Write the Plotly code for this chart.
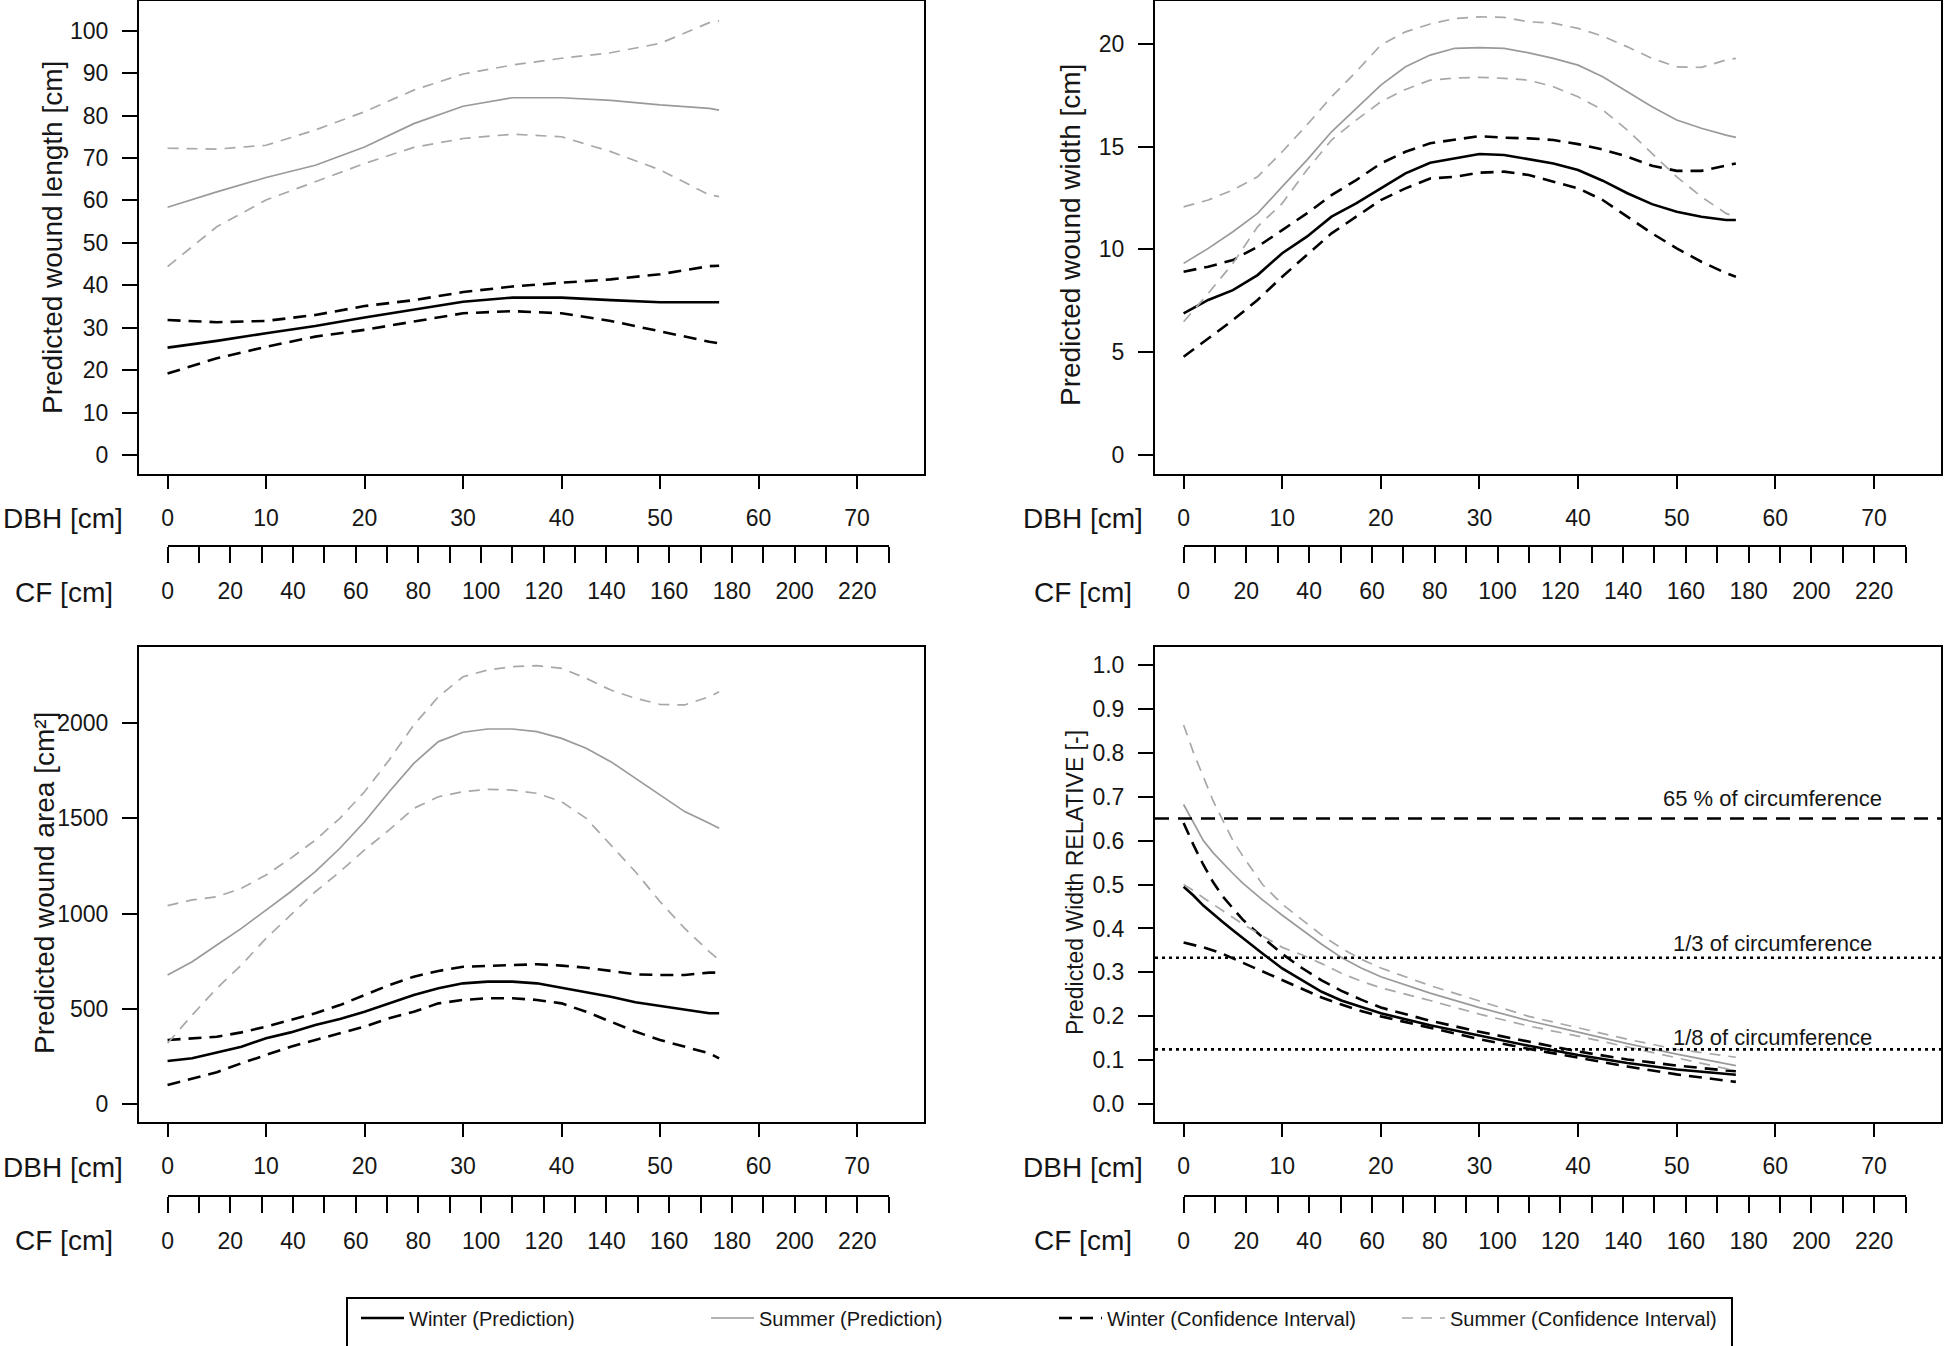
import math
import plotly.graph_objects as go

# ---------------- data ----------------
# top left: predicted wound length [cm]
DBH_LEN = [0, 5, 10, 15, 20, 25, 30, 35, 40, 45, 50, 55, 56]
LEN_WINTER = [25.3, 26.9, 28.7, 30.4, 32.4, 34.3, 36.1, 37.1, 37.1, 36.5, 36.0, 36.0, 36.0]
LEN_WINTER_UP = [31.8, 31.3, 31.6, 33.0, 35.1, 36.5, 38.4, 39.7, 40.6, 41.4, 42.6, 44.5, 44.6]
LEN_WINTER_LO = [19.2, 22.8, 25.5, 27.9, 29.5, 31.4, 33.4, 33.9, 33.4, 31.6, 29.1, 26.7, 26.3]
LEN_SUMMER = [58.4, 62.0, 65.4, 68.3, 72.6, 78.1, 82.2, 84.2, 84.2, 83.6, 82.5, 81.7, 81.3]
LEN_SUMMER_UP = [72.3, 72.1, 73.0, 76.6, 80.9, 86.0, 89.8, 91.9, 93.5, 94.8, 97.0, 101.9, 102.3]
LEN_SUMMER_LO = [44.4, 53.8, 60.1, 64.4, 68.7, 72.5, 74.6, 75.6, 75.0, 71.5, 67.2, 61.3, 60.9]

# top right: predicted wound width [cm]
DBH_WID = [0, 2.5, 5, 7.5, 10, 12.5, 15, 17.5, 20, 22.5, 25, 27.5, 30, 32.5,
           35, 37.5, 40, 42.5, 45, 47.5, 50, 52.5, 55, 56]
WID_WINTER = [6.89, 7.54, 8.02, 8.75, 9.81, 10.62, 11.59, 12.24, 12.97, 13.70, 14.21, 14.43,
              14.64, 14.59, 14.38, 14.18, 13.86, 13.34, 12.73, 12.20, 11.83, 11.59, 11.43, 11.43]
WID_WINTER_UP = [8.91, 9.16, 9.48, 10.13, 10.94, 11.75, 12.64, 13.37, 14.18, 14.75, 15.16, 15.32,
                 15.51, 15.43, 15.40, 15.32, 15.12, 14.86, 14.51, 14.07, 13.82, 13.82, 14.07, 14.18]
WID_WINTER_LO = [4.78, 5.67, 6.56, 7.54, 8.67, 9.73, 10.78, 11.59, 12.40, 12.97, 13.45, 13.53,
                 13.73, 13.78, 13.62, 13.29, 12.97, 12.40, 11.59, 10.78, 10.05, 9.40, 8.84, 8.67]
WID_SUMMER = [9.32, 10.05, 10.86, 11.75, 13.05, 14.34, 15.72, 16.86, 17.99, 18.88, 19.45, 19.78,
              19.81, 19.78, 19.56, 19.29, 18.96, 18.40, 17.67, 16.94, 16.29, 15.89, 15.56, 15.45]
WID_SUMMER_UP = [12.07, 12.40, 12.89, 13.53, 14.75, 16.05, 17.42, 18.64, 19.94, 20.58, 20.96, 21.23,
                 21.31, 21.28, 21.07, 21.00, 20.75, 20.37, 19.85, 19.29, 18.88, 18.85, 19.21, 19.29]
WID_SUMMER_LO = [6.48, 7.86, 9.32, 11.10, 12.24, 13.86, 15.32, 16.29, 17.18, 17.78, 18.23, 18.33,
                 18.37, 18.32, 18.23, 17.91, 17.42, 16.78, 15.80, 14.67, 13.53, 12.56, 11.75, 11.59]

# bottom left: predicted wound area [cm2]
DBH_AREA = DBH_WID
AREA_WINTER = [227, 241, 272, 302, 346, 377, 416, 447, 485, 529, 573, 608,
               634, 643, 643, 634, 611, 590, 564, 535, 515, 494, 477, 477]
AREA_WINTER_UP = [337, 346, 354, 377, 407, 442, 477, 520, 573, 625, 669, 699,
                  721, 725, 730, 734, 727, 716, 699, 681, 678, 678, 690, 690]
AREA_WINTER_LO = [101, 136, 168, 215, 258, 302, 337, 372, 407, 451, 485, 529,
                  547, 556, 556, 547, 529, 485, 433, 381, 337, 302, 267, 241]
AREA_SUMMER = [678, 747, 835, 922, 1018, 1114, 1219, 1342, 1481, 1638, 1787, 1901,
               1950, 1967, 1967, 1953, 1918, 1866, 1796, 1709, 1621, 1534, 1473, 1447]
AREA_SUMMER_UP = [1041, 1071, 1088, 1132, 1202, 1289, 1385, 1499, 1638, 1805, 1988, 2136,
                  2241, 2276, 2294, 2299, 2285, 2233, 2171, 2128, 2096, 2093, 2136, 2162]
AREA_SUMMER_LO = [320, 468, 608, 730, 870, 992, 1114, 1219, 1333, 1438, 1551, 1612,
                  1638, 1651, 1647, 1630, 1586, 1499, 1359, 1219, 1062, 922, 800, 756]

# bottom right: predicted width relative to circumference [-]
DBH_REL = [0, 1, 2, 3, 4, 5, 6, 8, 10, 12, 14, 16, 18, 20, 25, 30, 35, 40, 45, 50, 55, 56]
REL_WINTER = [0.495, 0.475, 0.452, 0.432, 0.414, 0.396, 0.378, 0.343, 0.309, 0.282, 0.256,
              0.236, 0.221, 0.207, 0.180, 0.156, 0.133, 0.112, 0.094, 0.079, 0.068, 0.067]
REL_WINTER_UP = [0.640, 0.590, 0.545, 0.505, 0.472, 0.445, 0.420, 0.380, 0.342, 0.310, 0.282,
                 0.258, 0.238, 0.220, 0.190, 0.165, 0.142, 0.120, 0.102, 0.088, 0.077, 0.075]
REL_WINTER_LO = [0.368, 0.363, 0.357, 0.350, 0.342, 0.332, 0.322, 0.303, 0.282, 0.262, 0.243,
                 0.227, 0.212, 0.200, 0.174, 0.148, 0.126, 0.106, 0.086, 0.068, 0.053, 0.051]
REL_SUMMER = [0.682, 0.640, 0.600, 0.572, 0.548, 0.525, 0.503, 0.465, 0.430, 0.397, 0.364,
              0.334, 0.310, 0.290, 0.253, 0.220, 0.190, 0.164, 0.138, 0.114, 0.092, 0.088]
REL_SUMMER_UP = [0.863, 0.800, 0.745, 0.690, 0.645, 0.600, 0.565, 0.500, 0.455, 0.420, 0.385,
                 0.355, 0.330, 0.310, 0.270, 0.235, 0.200, 0.174, 0.148, 0.125, 0.110, 0.107]
REL_SUMMER_LO = [0.500, 0.486, 0.470, 0.455, 0.440, 0.425, 0.410, 0.383, 0.357, 0.340, 0.320,
                 0.298, 0.280, 0.265, 0.236, 0.205, 0.178, 0.155, 0.130, 0.105, 0.081, 0.078]

REF_LEVELS = [0.65, 1 / 3, 1 / 8]
REF_LABELS = ['65 % of circumference', '1/3 of circumference', '1/8 of circumference']

DBH_TICKS = list(range(0, 80, 10))
CF_TICKS = list(range(0, 240, 10))
CF_LABELS = [str(v) if v % 20 == 0 and v <= 220 else '' for v in CF_TICKS]

SERIES_NAMES = ['Winter (Prediction)', 'Summer (Prediction)',
                'Winter (Confidence Interval)', 'Summer (Confidence Interval)']

# ---------------- styling ----------------
W, H = 1946, 1346
FONT = 'Liberation Sans, Arial, sans-serif'
INK = '#161616'
X_RANGE = [-2.9, 76.8]

STYLES = {
    'winter': dict(color='black', width=2.6, dash='solid'),
    'summer': dict(color='#9a9a9a', width=1.7, dash='solid'),
    'winter_ci': dict(color='black', width=2.6, dash='13px,8px'),
    'summer_ci': dict(color='#a8a8a8', width=1.7, dash='11px,8px'),
}

PANELS = [
    dict(box=(139, 1, 924, 474), cf_y=545, yrange=[-4.48, 107.0],
         yticks=list(range(0, 101, 10)), yfmt=None,
         title='Predicted wound length [cm]', title_xy=(52, 238), title_size=28,
         lab_right=(125, 115), lab_y=(518, 592), x=DBH_LEN,
         series=[LEN_WINTER, LEN_SUMMER, LEN_WINTER_UP, LEN_WINTER_LO, LEN_SUMMER_UP, LEN_SUMMER_LO]),
    dict(box=(1155, 1, 1941, 474), cf_y=545, yrange=[-0.924, 22.08],
         yticks=[0, 5, 10, 15, 20], yfmt=None,
         title='Predicted wound width [cm]', title_xy=(1070, 235), title_size=28,
         lab_right=(1145, 1134), lab_y=(518, 592), x=DBH_WID,
         series=[WID_WINTER, WID_SUMMER, WID_WINTER_UP, WID_WINTER_LO, WID_SUMMER_UP, WID_SUMMER_LO]),
    dict(box=(139, 647, 924, 1122), cf_y=1195, yrange=[-92.8, 2396.8],
         yticks=[0, 500, 1000, 1500, 2000], yfmt=None,
         title='Predicted wound area [cm²]', title_xy=(44, 883), title_size=28,
         lab_right=(125, 115), lab_y=(1167, 1240), x=DBH_AREA,
         series=[AREA_WINTER, AREA_SUMMER, AREA_WINTER_UP, AREA_WINTER_LO, AREA_SUMMER_UP, AREA_SUMMER_LO]),
    dict(box=(1155, 647, 1941, 1122), cf_y=1195, yrange=[-0.0403, 1.0403],
         yticks=[i / 10 for i in range(11)], yfmt='.1f',
         title='Predicted Width RELATIVE [-]', title_xy=(1075, 883), title_size=23,
         lab_right=(1145, 1134), lab_y=(1167, 1240), x=DBH_REL,
         series=[REL_WINTER, REL_SUMMER, REL_WINTER_UP, REL_WINTER_LO, REL_SUMMER_UP, REL_SUMMER_LO]),
]

SERIES_STYLE = ['winter', 'summer', 'winter_ci', 'winter_ci', 'summer_ci', 'summer_ci']
SERIES_LEGEND = [0, 1, 2, None, 3, None]
LEGEND_X = [356, 706, 1054, 1397]
LEGEND_Y = 1318

fig = go.Figure()
layout = dict(
    width=W, height=H,
    margin=dict(l=0, r=0, t=0, b=0, autoexpand=False),
    paper_bgcolor='white', plot_bgcolor='white',
    font=dict(family=FONT, color=INK, size=23),
    annotations=[], shapes=[],
)

axis_common = dict(showline=True, linewidth=2, linecolor='black', showgrid=False,
                   zeroline=False, ticks='outside', tickwidth=2, tickcolor='black',
                   tickfont=dict(family=FONT, size=23, color=INK))

for i, p in enumerate(PANELS, start=1):
    L, T, R, B = p['box']
    xa, ya = f'x{i}', f'y{i}'
    ca, cya = f'x{i + 4}', f'y{i + 4}'

    layout[f'xaxis{i}'] = dict(axis_common, domain=[L / W, R / W], range=X_RANGE, anchor=ya,
                               mirror=True, tickvals=DBH_TICKS, ticklen=13,
                               ticklabelstandoff=9)
    layout[f'yaxis{i}'] = dict(axis_common, domain=[1 - B / H, 1 - T / H], range=p['yrange'],
                               anchor=xa, mirror=True, tickvals=p['yticks'], ticklen=15,
                               tickformat=p['yfmt'], ticklabelstandoff=9)

    # circumference axis (CF = pi * DBH), drawn below the DBH axis
    scale = (R - L) / (X_RANGE[1] - X_RANGE[0])
    cf0 = L + (0 - X_RANGE[0]) * scale
    cf1 = cf0 + CF_TICKS[-1] / math.pi * scale
    cy = p['cf_y']
    layout[f'xaxis{i + 4}'] = dict(axis_common, domain=[cf0 / W, cf1 / W],
                                   range=[CF_TICKS[0], CF_TICKS[-1]], anchor=cya,
                                   tickvals=CF_TICKS, ticktext=CF_LABELS, ticklen=16,
                                   ticklabelstandoff=8)
    layout[f'yaxis{i + 4}'] = dict(domain=[1 - cy / H, 1 - cy / H + 0.002], visible=False,
                                   anchor=ca, range=[0, 1])
    fig.add_trace(go.Scatter(x=[], y=[], xaxis=ca, yaxis=cya, showlegend=False, hoverinfo='skip'))

    for k, ys in enumerate(p['series']):
        leg = SERIES_LEGEND[k] if i == 1 else None
        fig.add_trace(go.Scatter(
            x=p['x'], y=ys, xaxis=xa, yaxis=ya, mode='lines',
            line=STYLES[SERIES_STYLE[k]],
            name=SERIES_NAMES[leg] if leg is not None else '',
            showlegend=leg is not None,
            legend='legend' if not leg else f'legend{leg + 1}',
        ))

    lx_dbh, lx_cf = p['lab_right']
    ly_dbh, ly_cf = p['lab_y']
    layout['annotations'] += [
        dict(text=p['title'], x=p['title_xy'][0] / W, y=1 - p['title_xy'][1] / H,
             xref='paper', yref='paper', textangle=-90, showarrow=False,
             xanchor='center', yanchor='middle',
             font=dict(size=p['title_size'], family=FONT, color=INK)),
        dict(text='DBH [cm]', x=lx_dbh / W, y=1 - ly_dbh / H, xref='paper', yref='paper',
             xanchor='right', yanchor='middle', showarrow=False,
             font=dict(size=28, family=FONT, color=INK)),
        dict(text='CF [cm]', x=lx_cf / W, y=1 - ly_cf / H, xref='paper', yref='paper',
             xanchor='right', yanchor='middle', showarrow=False,
             font=dict(size=28, family=FONT, color=INK)),
    ]

# reference levels in the relative-width panel
for level, label, dash, shift in zip(REF_LEVELS, REF_LABELS, ['14px,9px', '3px,4px', '3px,4px'],
                                     [20, 14, 12]):
    layout['shapes'].append(dict(type='line', xref='x4 domain', yref='y4', x0=0, x1=1,
                                 y0=level, y1=level, line=dict(color='black', width=2.6, dash=dash)))
    layout['annotations'].append(dict(text=label, x=59.7, y=level, xref='x4', yref='y4',
                                      yshift=shift, showarrow=False, xanchor='center',
                                      yanchor='middle', font=dict(size=22, family=FONT, color=INK)))

# legend frame (runs off the bottom edge as in the original)
layout['shapes'].append(dict(type='rect', xref='paper', yref='paper', x0=347 / W, x1=1732 / W,
                             y0=-0.05, y1=1 - 1298 / H, line=dict(color='black', width=2)))
for j, lx in enumerate(LEGEND_X):
    key = 'legend' if j == 0 else f'legend{j + 1}'
    layout[key] = dict(x=lx / W, y=1 - LEGEND_Y / H, xanchor='left', yanchor='middle',
                       bgcolor='rgba(0,0,0,0)', borderwidth=0, itemwidth=43,
                       font=dict(size=20, family=FONT, color=INK))

fig.update_layout(**layout)
# drop the default page margin so the figure sits at the window's top-left corner
fig.write_html('out.html', config={'displayModeBar': False},
               post_script="document.body.style.margin='0';")
